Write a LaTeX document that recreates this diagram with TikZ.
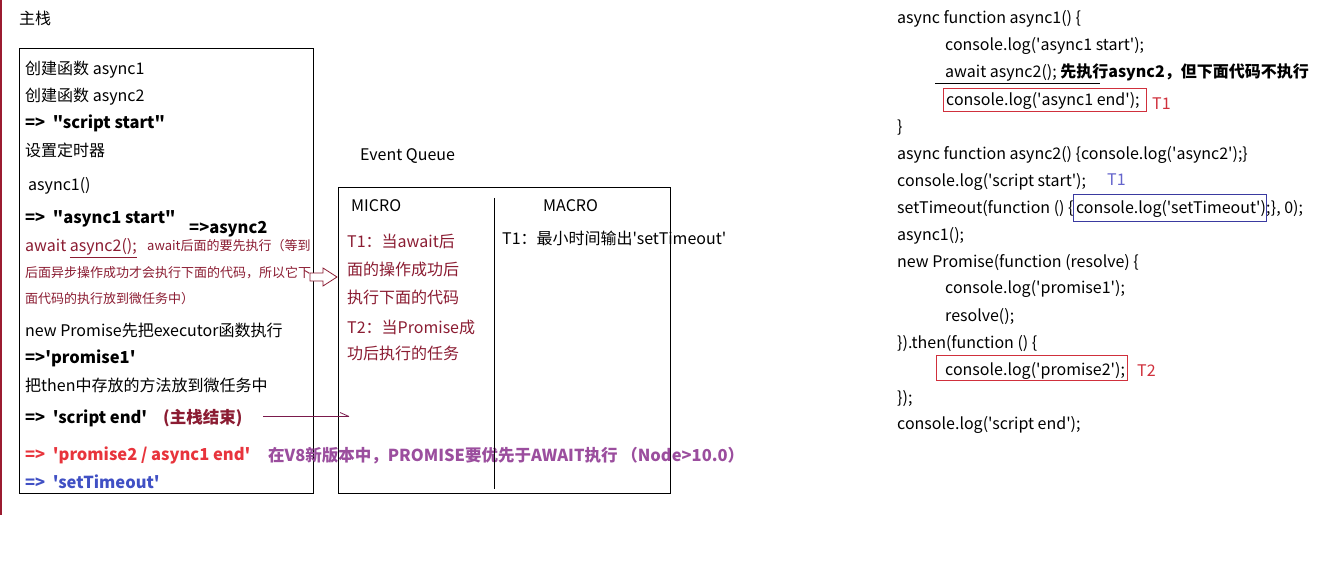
\documentclass[tikz,border=0pt]{standalone}
\usepackage{fontspec}
\setmainfont{Noto Sans CJK SC}[Ligatures=TeXOff]
\usetikzlibrary{arrows.meta,calc}
\definecolor{maroon}{HTML}{8B1C32}
\definecolor{leftline}{HTML}{9B1B30}
\definecolor{outred}{HTML}{E8343C}
\definecolor{outblue}{HTML}{4050C4}
\definecolor{notepurple}{HTML}{9B4E9E}
\definecolor{boxred}{HTML}{D0303C}
\definecolor{boxblue}{HTML}{3A3AA0}
\definecolor{tblue}{HTML}{6464CC}
\definecolor{arrowplum}{HTML}{7A1A4C}
\newcommand\fm{\fontsize{16pt}{18pt}\selectfont}
\newcommand\fmb{\fontsize{16.5pt}{18pt}\selectfont\bfseries}
\newcommand\fsm{\fontsize{13pt}{15pt}\selectfont}
\begin{document}
\begin{tikzpicture}[x=1pt,y=-1pt,
  t/.style={anchor=west, inner sep=0pt, text height=13.5pt, text depth=1.5pt, font=\fm},
  tb/.style={t, font=\fmb},
  frame/.style={draw=black, line width=0.8pt, anchor=north west, inner sep=0pt},
  codebox/.style={draw=#1, line width=0.8pt, line join=miter}]
\useasboundingbox (0,0) rectangle (1343,569);
\fill[white] (0,0) rectangle (1343,569);

% left bar
\coordinate (barTop) at (1,0);
\coordinate (barBot) at (1,515);
\draw[leftline, line width=2pt] (barTop) -- (barBot);

% main stack
\node[t] (title) at (19,19) {主栈};
\node[frame, minimum width=294pt, minimum height=445pt] (stack) at (19,48) {};
\node[t] (l1) at (25,69) {创建函数 async1};
\node[t] (l2) at (25,96) {创建函数 async2};
\node[tb] (l3) at (25,123) {=>\ \ "script start"};
\node[t] (l4) at (25,151) {设置定时器};
\node[t] (l5) at (28,185) {async1()};
\node[tb] (l6) at (25,218) {=>\ \ "async1 start"};
\node[tb] (l6b) at (189,228) {=>async2};
\node[t, text=maroon] (l7) at (25,246) {await \underline{async2();}};
\node[t, text=maroon, font=\fsm] (l7b) at (147,245) {await后面的要先执行（等到};
\node[t, text=maroon, font=\fsm] (l8) at (25,271) {后面异步操作成功才会执行下面的代码，所以它下};
\node[t, text=maroon, font=\fsm] (l9) at (25,297) {面代码的执行放到微任务中）};
\node[t] (l10) at (25,330) {new Promise先把executor函数执行};
\node[tb] (l11) at (25,357) {=>'promise1'};
\node[t] (l12) at (25,385) {把then中存放的方法放到微任务中};
\node[tb] (l13) at (25,417) {=>\ \ 'script end'};
\node[tb, text=maroon] (l13b) at (163,417) {(主栈结束)};
\node[tb, text=outred] (l14) at (25,454) {=>\ \ 'promise2 / async1 end'};
\node[tb, text=outblue] (l15) at (25,482) {=>\ \ 'setTimeout'};
\node[tb, text=notepurple] (note) at (268,455) {在V8新版本中，PROMISE要优先于AWAIT执行 （Node>10.0）};

% event queue
\node[t] (eq) at (360,155) {Event Queue};
\node[frame, minimum width=332pt, minimum height=306pt] (queue) at (338,187) {};
\coordinate (divTop) at (494,198);
\coordinate (divBot) at (494,489);
\draw[line width=0.8pt] (divTop) -- (divBot);
\node[t] (micro) at (351,206) {MICRO};
\node[t] (macro) at (543,206) {MACRO};
\node[t, text=maroon] (m1) at (347,242) {T1：当await后};
\node[t, text=maroon] (m2) at (347,270) {面的操作成功后};
\node[t, text=maroon] (m3) at (347,297) {执行下面的代码};
\node[t, text=maroon] (m4) at (347,327) {T2：当Promise成};
\node[t, text=maroon] (m5) at (347,353) {功后执行的任务};
\node[t] (ma1) at (502,239) {T1：最小时间输出'setTimeout'};

% hollow arrow from stack to queue
\coordinate (ha) at (310,277);
\draw[maroon, line width=0.8pt, fill=white]
  (ha) ++(0,-4) -- ++(13,0) -- ++(0,-5) -- (337,277) -- (323,286) -- ++(0,-5) -- ++(-13,0) -- cycle;

% thin arrow
\coordinate (taS) at (263,416.5);
\coordinate (taE) at (349,416.5);
\draw[arrowplum, line width=0.8pt] (taS) -- (taE);
\draw[arrowplum, line width=0.8pt] (taE) -- ++(-9,-4);

% code
\node[t] (c1) at (897,18) {async function async1() \{};
\node[t] (c2) at (945,45) {console.log('async1 start');};
\node[t] (c3) at (945,72) {await async2(); {\bfseries 先执行async2，但下面代码不执行}};
\coordinate (ulS) at (935,83);
\coordinate (ulE) at (1100,83);
\draw[line width=0.8pt] (ulS) -- (ulE);
\node[t] (c4) at (946,100) {console.log('async1 end');};
\draw[codebox=boxred] (943,88) rectangle (1146,111);
\node[t, text=boxred] (t1a) at (1152,104) {T1};
\node[t] (c5) at (897,127) {\}};
\node[t] (c6) at (897,154) {async function async2() \{console.log('async2');\}};
\node[t] (c7) at (897,181) {console.log('script start');};
\node[t, text=tblue] (t1b) at (1107,180) {T1};
\node[t] (c8a) at (897,208) {setTimeout(function () \{};
\node[t, anchor=base west] (c8b) at ($(c8a.base east)+(2,0)$) {console.log('setTimeout');};
\node[t, anchor=base west] (c8c) at (c8b.base east) {\}, 0);};
\draw[codebox=boxblue] ($(c8b.west)+(-2,-13.5)$) rectangle ++(193,27);
\node[t] (c9) at (897,235) {async1();};
\node[t] (c10) at (897,262) {new Promise(function (resolve) \{};
\node[t] (c11) at (945,288) {console.log('promise1');};
\node[t] (c12) at (945,315) {resolve();};
\node[t] (c13) at (897,342) {\}).then(function () \{};
\node[t] (c14) at (945,369) {console.log('promise2');};
\draw[codebox=boxred] (936,355) rectangle (1127,380);
\node[t, text=boxred] (t2) at (1137,370) {T2};
\node[t] (c15) at (897,397) {\});};
\node[t] (c16) at (897,423) {console.log('script end');};
\end{tikzpicture}
\end{document}
